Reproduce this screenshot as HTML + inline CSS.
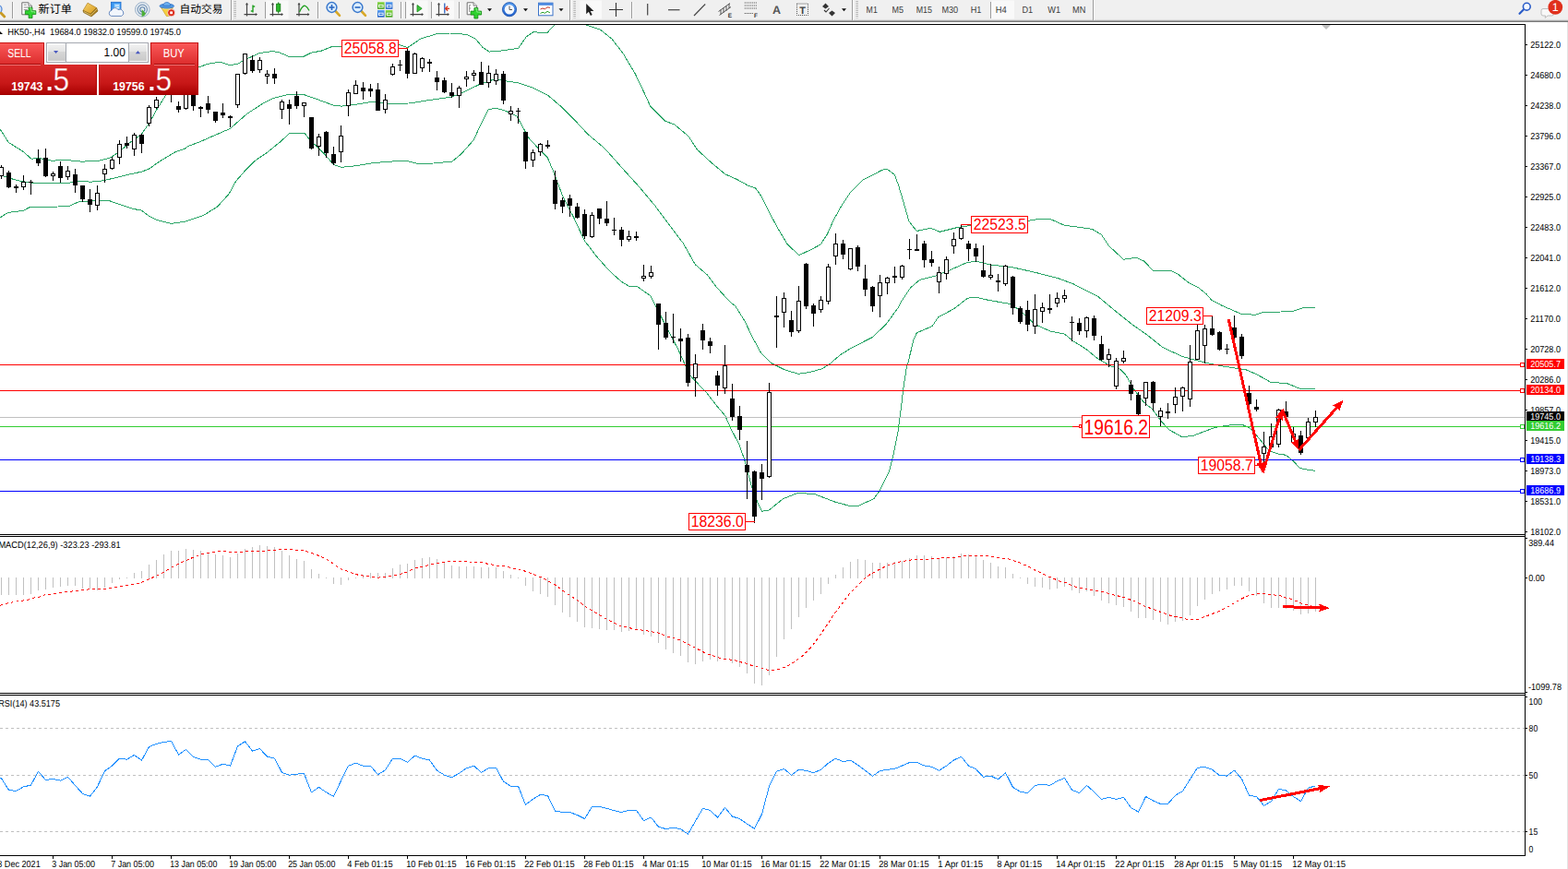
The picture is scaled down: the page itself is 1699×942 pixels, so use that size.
<!DOCTYPE html>
<html><head><meta charset="utf-8"><title>HK50 H4</title>
<style>
html,body{margin:0;padding:0;background:#fff;}
body{width:1699px;height:942px;overflow:hidden;position:relative;font-family:"Liberation Sans",sans-serif;}
svg{position:absolute;left:0;top:0;display:block;}
text{font-family:"Liberation Sans",sans-serif;text-rendering:geometricPrecision;}
</style></head>
<body>
<svg width="1699" height="942" viewBox="0 0 1699 942">
<defs>
<clipPath id="cpMain"><rect x="0" y="27" width="1652" height="552"/></clipPath>
<linearGradient id="gSell" x1="0" y1="0" x2="0" y2="1"><stop offset="0" stop-color="#fb5a5a"/><stop offset="1" stop-color="#dc2c2c"/></linearGradient>
<linearGradient id="gBig" x1="0" y1="0" x2="0" y2="1"><stop offset="0" stop-color="#d92a2a"/><stop offset="0.6" stop-color="#c81818"/><stop offset="1" stop-color="#a80000"/></linearGradient>
<linearGradient id="gBigU" gradientUnits="userSpaceOnUse" x1="0" y1="70" x2="0" y2="103"><stop offset="0" stop-color="#d92a2a"/><stop offset="0.6" stop-color="#c81818"/><stop offset="1" stop-color="#a80000"/></linearGradient>
<linearGradient id="gBtn" x1="0" y1="0" x2="0" y2="1"><stop offset="0" stop-color="#f2f2f2"/><stop offset="0.42" stop-color="#e4e4e4"/><stop offset="0.46" stop-color="#d6d6d6"/><stop offset="1" stop-color="#cacaca"/></linearGradient>
<linearGradient id="gTb" x1="0" y1="0" x2="0" y2="1"><stop offset="0" stop-color="#8c8c8c"/><stop offset="1" stop-color="#dcdcdc"/></linearGradient>
<linearGradient id="gGold" x1="0" y1="0" x2="1" y2="1"><stop offset="0" stop-color="#f6d470"/><stop offset="1" stop-color="#d89818"/></linearGradient>
<linearGradient id="gBlue" x1="0" y1="0" x2="0" y2="1"><stop offset="0" stop-color="#5aa0f0"/><stop offset="1" stop-color="#1c5cc8"/></linearGradient>
<linearGradient id="gGreen" x1="0" y1="0" x2="0" y2="1"><stop offset="0" stop-color="#8ad84a"/><stop offset="1" stop-color="#3ca018"/></linearGradient>
</defs>
<rect x="0" y="0" width="1699" height="942" fill="#fff"/>
<g id="toolbar"><rect x="0" y="0" width="1699" height="21" fill="#f0f0f0"/><rect x="0" y="21" width="1699" height="1" fill="#dedede"/><rect x="0" y="22" width="1699" height="1" fill="#a6a6a6"/><rect x="0" y="23" width="1699" height="1" fill="#7a7a7a"/><circle cx="-2.6" cy="10" r="4.6" fill="#cfe4fb" stroke="#5a8cd8" stroke-width="1.3"/><line x1="1.2" y1="14.2" x2="4.8" y2="18" stroke="#c89a24" stroke-width="2.8" stroke-linecap="round"/><line x1="13.5" x2="13.5" y1="1.5" y2="20" stroke="#9c9c9c" stroke-width="1" shape-rendering="crispEdges"/><line x1="14.5" x2="14.5" y1="1.5" y2="20" stroke="#fafafa" stroke-width="1" shape-rendering="crispEdges"/><path d="M23.8 2.8h7l3.6 3.4v9.6h-10.6z" fill="#fff" stroke="#6e6e6e" stroke-width="1"/><path d="M30.8 2.8v3.4h3.6" fill="#e8e8e8" stroke="#6e6e6e" stroke-width="0.8"/><path d="M25.8 5.2h3M25.8 8h6M25.8 10.6h4" stroke="#8a8a8a" stroke-width="1"/><path d="M31.1 8.2h3.9v3.5h3.8v3.9h-3.8v4h-3.9v-4h-3.8v-3.9h3.8z" fill="#2fd22f" stroke="#0c860c" stroke-width="0.8"/><path d="M32 9.2h2v3.5h3.7v1.6" fill="none" stroke="#9af09a" stroke-width="0.8"/><text x="41.6" y="13.6" textLength="36.4" lengthAdjust="spacingAndGlyphs" style="font-family:'Liberation Sans','Noto Sans CJK SC',sans-serif;font-size:12.1px" fill="#000">新订单</text><path d="M90 11.4L95 3.2L104.6 8.5L98 15.2z" fill="url(#gGold)" stroke="#b08018" stroke-width="0.7"/><path d="M90 11.4L98 15.2L104.6 8.5L106 12L99 18L90.6 13.6z" fill="#a87c1c" stroke="#7a5a10" stroke-width="0.6"/><path d="M91 12.6L98.4 16.4L105 9.8" fill="none" stroke="#f0dc90" stroke-width="0.7"/><rect x="120.4" y="2.3" width="10.6" height="9" fill="#3a96f0" stroke="#1c6ccc" stroke-width="0.8"/><rect x="123.6" y="4" width="6.4" height="6.5" fill="#7cc0fa"/><path d="M124.6 6h4.4M124.6 8.4h4.4" stroke="#fff" stroke-width="1"/><path d="M120.6 17.4a3.1 3.1 0 0 1 0.4 -6.1a3.8 3.8 0 0 1 7 -0.7a3.4 3.4 0 0 1 3.8 6.8z" fill="#f2f6fc" stroke="#6c8cc0" stroke-width="1"/><circle cx="154.3" cy="10.3" r="7.8" fill="#e6ecf2" stroke="#9ab0c8" stroke-width="1"/><circle cx="154.3" cy="10.3" r="5.2" fill="none" stroke="#7a98b8" stroke-width="1.2"/><circle cx="154.3" cy="10.3" r="2.6" fill="none" stroke="#5a80a8" stroke-width="1.1"/><path d="M153.6 10v8.2a7 7 0 0 0 4.5 -3.5z" fill="#4caf38"/><path d="M174.6 8l12.6 0.6l-3.6 8.6l-3.2 0.4z" fill="#f6d040" stroke="#c8a020" stroke-width="0.7"/><path d="M176 9.4l9.5 0.4" stroke="#fbe88a" stroke-width="1.4"/><ellipse cx="180.8" cy="6.6" rx="7.8" ry="2.5" fill="#4f98e4" stroke="#2a6cc0" stroke-width="0.7"/><path d="M176.8 6.2c0.2-5 7.8-5 8 0z" fill="#6cb0f0" stroke="#2a6cc0" stroke-width="0.7"/><circle cx="185.6" cy="13.8" r="4" fill="#dc2a16" stroke="#f4f4f4" stroke-width="0.7"/><rect x="184.2" y="12.4" width="2.8" height="2.8" fill="#fff"/><text x="194.6" y="13.6" textLength="46.9" lengthAdjust="spacingAndGlyphs" style="font-family:'Liberation Sans','Noto Sans CJK SC',sans-serif;font-size:11.8px" fill="#000">自动交易</text><line x1="250" x2="250" y1="0" y2="21.5" stroke="#9c9c9c" stroke-width="1" shape-rendering="crispEdges"/><line x1="251" x2="251" y1="0" y2="21.5" stroke="#fafafa" stroke-width="1" shape-rendering="crispEdges"/><line x1="254.6" x2="254.6" y1="1" y2="19.5" stroke="#b4b4b4" stroke-width="2.6" stroke-dasharray="1 1"/><path d="M267.5 3.5V17.5M264.5 15.6H278" stroke="#444" stroke-width="1.2" fill="none"/><path d="M267.5 3l-1.6 2.2h3.2zM279 15.6l-2.2 -1.6v3.2z" fill="#444"/><path d="M274 5.5V13.5M271.8 12h2.2M274 7h2.2" stroke="#22a022" stroke-width="1.4" fill="none"/><line x1="287.8" x2="287.8" y1="1.5" y2="20" stroke="#9c9c9c" stroke-width="1" shape-rendering="crispEdges"/><line x1="288.8" x2="288.8" y1="1.5" y2="20" stroke="#fafafa" stroke-width="1" shape-rendering="crispEdges"/><rect x="288.5" y="0.5" width="24" height="20" fill="#f9f9f9"/><path d="M295.5 3.5V17.5M292.5 15.6H306" stroke="#444" stroke-width="1.2" fill="none"/><path d="M295.5 3l-1.6 2.2h3.2zM307 15.6l-2.2 -1.6v3.2z" fill="#444"/><path d="M301.7 2.5V14.5" stroke="#147a14" stroke-width="1.1"/><rect x="299.6" y="4.2" width="4.2" height="8" fill="#2cb82c" stroke="#147a14" stroke-width="0.8"/><path d="M324 3.5V17.5M321 15.6H334.5" stroke="#444" stroke-width="1.2" fill="none"/><path d="M324 3l-1.6 2.2h3.2zM335.5 15.6l-2.2 -1.6v3.2z" fill="#444"/><path d="M324.5 13c2-5 4.5-7.5 6.5-6.5s3 3 4 5" stroke="#22a022" stroke-width="1.3" fill="none"/><line x1="344.8" x2="344.8" y1="1.5" y2="20" stroke="#9c9c9c" stroke-width="1" shape-rendering="crispEdges"/><line x1="345.8" x2="345.8" y1="1.5" y2="20" stroke="#fafafa" stroke-width="1" shape-rendering="crispEdges"/><line x1="363.5" y1="12" x2="368" y2="16.8" stroke="#d8a828" stroke-width="2.6" stroke-linecap="round"/><circle cx="359.5" cy="8" r="5.4" fill="#dceeff" stroke="#3a78cc" stroke-width="1.5"/><path d="M356.5 8h6" stroke="#2a66c0" stroke-width="1.6"/><path d="M359.5 5v6" stroke="#2a66c0" stroke-width="1.6"/><line x1="391.5" y1="12" x2="396" y2="16.8" stroke="#d8a828" stroke-width="2.6" stroke-linecap="round"/><circle cx="387.5" cy="8" r="5.4" fill="#dceeff" stroke="#3a78cc" stroke-width="1.5"/><path d="M384.5 8h6" stroke="#2a66c0" stroke-width="1.6"/><rect x="409" y="2.2" width="7.6" height="7.6" fill="url(#gGreen)"/><rect x="410.5" y="5.4" width="4.6" height="2.4" fill="none" stroke="#fff" stroke-width="0.9"/><rect x="417.8" y="2.2" width="7.6" height="7.6" fill="url(#gBlue)"/><rect x="419.3" y="5.4" width="4.6" height="2.4" fill="none" stroke="#fff" stroke-width="0.9"/><rect x="409" y="11" width="7.6" height="7.6" fill="url(#gBlue)"/><rect x="410.5" y="14.2" width="4.6" height="2.4" fill="none" stroke="#fff" stroke-width="0.9"/><rect x="417.8" y="11" width="7.6" height="7.6" fill="url(#gGreen)"/><rect x="419.3" y="14.2" width="4.6" height="2.4" fill="none" stroke="#fff" stroke-width="0.9"/><line x1="434.5" x2="434.5" y1="1.5" y2="20" stroke="#9c9c9c" stroke-width="1" shape-rendering="crispEdges"/><line x1="435.5" x2="435.5" y1="1.5" y2="20" stroke="#fafafa" stroke-width="1" shape-rendering="crispEdges"/><rect x="440" y="0.5" width="23.5" height="20" fill="#f9f9f9"/><line x1="439.5" x2="439.5" y1="1.5" y2="20" stroke="#9c9c9c" stroke-width="1" shape-rendering="crispEdges"/><line x1="440.5" x2="440.5" y1="1.5" y2="20" stroke="#fafafa" stroke-width="1" shape-rendering="crispEdges"/><path d="M447.5 3.5V17.5M444.5 15.6H458" stroke="#444" stroke-width="1.2" fill="none"/><path d="M447.5 3l-1.6 2.2h3.2zM459 15.6l-2.2 -1.6v3.2z" fill="#444"/><path d="M452 5.5v7.5l5.2-3.75z" fill="#3cc43c" stroke="#1a8a1a" stroke-width="0.8"/><rect x="468.5" y="0.5" width="23.5" height="20" fill="#f9f9f9"/><line x1="467.8" x2="467.8" y1="1.5" y2="20" stroke="#9c9c9c" stroke-width="1" shape-rendering="crispEdges"/><line x1="468.8" x2="468.8" y1="1.5" y2="20" stroke="#fafafa" stroke-width="1" shape-rendering="crispEdges"/><path d="M475.5 3.5V17.5M472.5 15.6H486" stroke="#444" stroke-width="1.2" fill="none"/><path d="M475.5 3l-1.6 2.2h3.2zM487 15.6l-2.2 -1.6v3.2z" fill="#444"/><path d="M481.8 3.5v11" stroke="#2a62c0" stroke-width="1.3"/><path d="M487 9.3h-4M485.2 6.8l-2.6 2.5l2.6 2.5" stroke="#d83018" stroke-width="1.2" fill="none"/><line x1="497" x2="497" y1="1.5" y2="20" stroke="#9c9c9c" stroke-width="1" shape-rendering="crispEdges"/><line x1="498" x2="498" y1="1.5" y2="20" stroke="#fafafa" stroke-width="1" shape-rendering="crispEdges"/><path d="M506.2 2.8h6.8l3.6 3.4v9.6h-10.4z" fill="#fff" stroke="#6e6e6e" stroke-width="1"/><path d="M513 2.8v3.4h3.6" fill="#e8e8e8" stroke="#6e6e6e" stroke-width="0.8"/><path d="M508.6 5.5v7.5M508.6 5.5h1.6M508.6 9h1.6" stroke="#8a8a8a" stroke-width="0.9" fill="none"/><path d="M513.9 8.6h3.9v3.5h3.8v3.9h-3.8v4h-3.9v-4h-3.8v-3.9h3.8z" fill="#2fd22f" stroke="#0c860c" stroke-width="0.8"/><path d="M514.8 9.6h2v3.5h3.7v1.6" fill="none" stroke="#9af09a" stroke-width="0.8"/><path d="M528 9.2h5l-2.5 3z" fill="#111"/><circle cx="552" cy="10.2" r="7.6" fill="url(#gBlue)" stroke="#1a4ea8" stroke-width="0.8"/><circle cx="552" cy="10.2" r="5.3" fill="#f4f8ff"/><path d="M552 6.5v4h3" stroke="#555" stroke-width="1" fill="none"/><path d="M567 9.2h5l-2.5 3z" fill="#111"/><rect x="583.5" y="3.2" width="15.5" height="13.6" fill="#fff" stroke="#3a72c8" stroke-width="1"/><rect x="583.5" y="3.2" width="15.5" height="2.6" fill="#4a88e0"/><path d="M585.5 10l2.5-1l2.5 0.8l2.5-2l3 0.5" stroke="#c83020" stroke-width="1" fill="none"/><path d="M585.5 14.5l2.5-1.2l2.5 1l2.5-2l3 1.6" stroke="#28a028" stroke-width="1" fill="none"/><path d="M605.5 9.2h5l-2.5 3z" fill="#111"/><line x1="617.8" x2="617.8" y1="0" y2="21.5" stroke="#9c9c9c" stroke-width="1" shape-rendering="crispEdges"/><line x1="618.8" x2="618.8" y1="0" y2="21.5" stroke="#fafafa" stroke-width="1" shape-rendering="crispEdges"/><line x1="622.6" x2="622.6" y1="1" y2="19.5" stroke="#b4b4b4" stroke-width="2.6" stroke-dasharray="1 1"/><rect x="628.5" y="0.5" width="23.5" height="20" fill="#f9f9f9"/><path d="M635.2 4v11.2l2.7-2.5l2 4.2l1.8-0.8l-2-4.1h3.7z" fill="#222"/><path d="M667.5 3v15M660 10.5h15" stroke="#333" stroke-width="1.1"/><line x1="684.5" x2="684.5" y1="1.5" y2="20" stroke="#9c9c9c" stroke-width="1" shape-rendering="crispEdges"/><line x1="685.5" x2="685.5" y1="1.5" y2="20" stroke="#fafafa" stroke-width="1" shape-rendering="crispEdges"/><path d="M701.7 4v12.5" stroke="#444" stroke-width="1.2"/><path d="M724 10.7h12.5" stroke="#444" stroke-width="1.2"/><path d="M752 17L764.2 4.5" stroke="#444" stroke-width="1.2"/><path d="M778.5 12.5L791 3.5M779.5 16.5L792 7.5M781 10.5v5M784 8.5v5M787 6.5v5M790 4v5" stroke="#444" stroke-width="0.9" fill="none"/><text x="788.8" y="19" style="font-size:6.5px;font-weight:bold" fill="#333">E</text><path d="M806.8 3h14M806.8 6h14M806.8 9h14M806.8 14.5h9" stroke="#444" stroke-width="1" stroke-dasharray="1 1"/><text x="817" y="19" style="font-size:6.5px;font-weight:bold" fill="#333">F</text><text x="841.4" y="15" text-anchor="middle" style="font-size:12.5px;font-weight:bold" fill="#555">A</text><rect x="863.5" y="4" width="12" height="12.5" fill="none" stroke="#555" stroke-width="1" stroke-dasharray="1 1"/><text x="869.5" y="14.6" text-anchor="middle" style="font-size:11px;font-weight:bold" fill="#444">T</text><path d="M891 7l3.5-3.5l3.5 3.5l-3.5 2.6zM898 14l3.5-2.6l3.5 2.6l-3.5 3.5z" fill="#333"/><path d="M893 11l2 2l3.5-4" stroke="#333" stroke-width="1.1" fill="none"/><path d="M912 9.2h5l-2.5 3z" fill="#111"/><line x1="923.5" x2="923.5" y1="0" y2="21.5" stroke="#9c9c9c" stroke-width="1" shape-rendering="crispEdges"/><line x1="924.5" x2="924.5" y1="0" y2="21.5" stroke="#fafafa" stroke-width="1" shape-rendering="crispEdges"/><line x1="928.6" x2="928.6" y1="1" y2="19.5" stroke="#b4b4b4" stroke-width="2.6" stroke-dasharray="1 1"/><rect x="1074.5" y="0.5" width="24.5" height="20" fill="#f9f9f9"/><line x1="1073.8" x2="1073.8" y1="1.5" y2="20" stroke="#9c9c9c" stroke-width="1" shape-rendering="crispEdges"/><line x1="1074.8" x2="1074.8" y1="1.5" y2="20" stroke="#fafafa" stroke-width="1" shape-rendering="crispEdges"/><text x="944.7" y="14" text-anchor="middle" style="font-size:10.17px" textLength="12.2" lengthAdjust="spacingAndGlyphs" fill="#3c3c3c">M1</text><text x="972.8" y="14" text-anchor="middle" style="font-size:10.17px" textLength="12.5" lengthAdjust="spacingAndGlyphs" fill="#3c3c3c">M5</text><text x="1001.3" y="14" text-anchor="middle" style="font-size:10.17px" textLength="17.3" lengthAdjust="spacingAndGlyphs" fill="#3c3c3c">M15</text><text x="1029.3" y="14" text-anchor="middle" style="font-size:10.17px" textLength="17.8" lengthAdjust="spacingAndGlyphs" fill="#3c3c3c">M30</text><text x="1057.5" y="14" text-anchor="middle" style="font-size:10.17px" textLength="11.7" lengthAdjust="spacingAndGlyphs" fill="#3c3c3c">H1</text><text x="1084.7" y="14" text-anchor="middle" style="font-size:10.17px" textLength="12" lengthAdjust="spacingAndGlyphs" fill="#3c3c3c">H4</text><text x="1113.3" y="14" text-anchor="middle" style="font-size:10.17px" textLength="11.7" lengthAdjust="spacingAndGlyphs" fill="#3c3c3c">D1</text><text x="1142.2" y="14" text-anchor="middle" style="font-size:10.17px" textLength="13.8" lengthAdjust="spacingAndGlyphs" fill="#3c3c3c">W1</text><text x="1169.2" y="14" text-anchor="middle" style="font-size:10.17px" textLength="14.3" lengthAdjust="spacingAndGlyphs" fill="#3c3c3c">MN</text><line x1="1184.8" x2="1184.8" y1="0" y2="21.5" stroke="#9c9c9c" stroke-width="1" shape-rendering="crispEdges"/><line x1="1185.8" x2="1185.8" y1="0" y2="21.5" stroke="#fafafa" stroke-width="1" shape-rendering="crispEdges"/><line x1="1646.5" y1="14.8" x2="1651.5" y2="9.8" stroke="#2a5cc8" stroke-width="2.2" stroke-linecap="round"/><circle cx="1654.3" cy="7.2" r="3.9" fill="#f4f8ff" stroke="#2a5cc8" stroke-width="1.6"/><path d="M1672 9.5h9.5a2 2 0 0 1 2 2v3.5a2 2 0 0 1 -2 2h-4.5l-2.8 2.4l0.3-2.4h-2.5a2 2 0 0 1 -2 -2v-3.5a2 2 0 0 1 2 -2z" fill="#f8f8f8" stroke="#b8b8b8" stroke-width="0.9"/><circle cx="1685.3" cy="7.8" r="7.9" fill="#e0301c"/><text x="1685.2" y="12.3" text-anchor="middle" style="font-size:12.5px" fill="#fff">1</text></g>
<g id="frame" shape-rendering="crispEdges"><rect x="0" y="26" width="1653" height="1" fill="#000"/><rect x="1652" y="26" width="1" height="902" fill="#000"/><rect x="0" y="579" width="1653" height="1" fill="#000"/><rect x="0" y="581" width="1653" height="1" fill="#000"/><rect x="0" y="751" width="1653" height="1" fill="#000"/><rect x="0" y="753" width="1653" height="1" fill="#000"/><rect x="0" y="927" width="1653" height="1" fill="#000"/><rect x="1698" y="24" width="1" height="918" fill="#e3e3e3"/><path d="M1432 27h10l-5 5z" fill="#c0c0c0" shape-rendering="auto"/></g>
<g id="main"><g clip-path="url(#cpMain)" shape-rendering="crispEdges">
<polyline points="0,139.9 9.3,154.4 25.5,164.6 34,172.2 41.6,171.3 56.1,174.2 71.3,173.4 88.3,175.1 105.3,174.7 118.9,171.3 129.1,164.6 141,154.4 152.9,145.9 161.4,134 169.9,118.7 178.4,105.1 181,100 186,92 195,82 205,76 215.5,72.9 217,72.3 225.5,69.2 238.2,67.2 249.3,70.6 257.8,69.2 263.7,65.5 281.5,57.5 295.1,55.6 301.9,56.6 313.8,61.6 329.1,61.2 337.6,57 347.8,55.3 359.7,50.5 369.9,50.2 380,50.2 400,50 425,49.6 432,48.3 441.6,51.5 448,47.5 455.1,42.3 472.7,36.8 487.7,36 505.2,37.3 515.3,42.3 522.8,51.1 530.3,56.1 545.3,54.8 561.6,52.3 570.4,39.8 577.9,34.8 593,35.5 600.5,27.3 604.2,23.5 618,19.7 631.8,23.5 635.6,27.3 650.6,32.3 663.1,42.3 675.6,58.6 688.2,79.9 700.7,106.2 704.5,115 720.8,131.2 730.8,135 745.8,147.5 755.8,162.6 770.9,176.4 785.9,188.9 798.4,194.4 811,201.4 818.5,203.9 825,212.7 833.3,230 843.3,248.3 853.3,265 865.8,276.7 878.3,270.8 889.2,265 896.7,253.3 903.3,238.3 911.7,223.3 921.7,208.3 935,195 945,190 955,184.7 960.8,183 969.2,189.2 973.3,200 978.3,216.7 985,240 993.3,250.5 1008.3,247.2 1018.3,251.3 1036.7,246.7 1051.7,244.5 1063.3,242.5 1096.7,240.8 1112.5,239.7 1125,237.5 1138.3,237.5 1140,238.3 1153.3,244.2 1183.3,248.3 1193.3,254.2 1201.7,266.7 1217.5,281.3 1231.7,279.2 1240,283.3 1249.2,293.3 1268.3,293.3 1276.7,297.5 1288.3,306.7 1298.3,311.7 1306.7,318.3 1313.3,325.8 1325,331.7 1344.2,340 1360,341.3 1369.2,338.3 1388.3,338 1401.7,337 1413.3,333.3 1423,333 1425,333" fill="none" stroke="#2aa567" stroke-width="1" stroke-linejoin="round"/>
<polyline points="0,189.7 10.2,193.1 22.1,196.3 34,198.2 56.1,198.5 76.4,198 84.9,196.3 98.5,197.2 110.4,196 122.3,193.4 139.3,189.2 152.9,186.3 161.4,183.2 173.3,174.7 190.3,164.6 200,161.5 203.8,158.6 217,153.5 249.3,139.4 267.9,123.2 284.9,112.2 296.8,106.2 310.4,102.9 329.1,102.5 344.4,107.9 361.4,114.2 369.9,115.1 386.9,113 400,110.8 403.8,110.2 421.7,112.2 443.3,112 466.7,108.3 490,105 500,100.8 520,91.3 533.3,86.7 541.7,86.2 550,88.3 560,89.5 575,94.2 593.3,103 608.3,115.8 623.3,130.8 636.7,145.3 653.3,159.2 660,166.2 663.3,170 676.7,185 693.3,203.3 710,223.3 726.7,245.8 740,263.3 753.3,286.7 766.7,298.3 776.7,311.7 790.8,327 796.7,331.7 806.7,347.5 815,365 825,383.3 835,393.3 850,400.8 865,405.3 878.3,403.3 890,400 898.3,395.3 910,385 923.3,376.7 945,365.8 960,351.7 973,333.7 976.7,326.7 986.7,311.7 996.7,303.3 1013.3,299.2 1030,292.5 1046.7,285 1056.7,283 1073.3,287 1096.7,289.7 1121.7,295.3 1146.7,301.7 1163,307.8 1190,321.7 1210,338.3 1226.7,351.7 1243.3,363.3 1260,376.7 1281.7,386.7 1306.7,393.3 1323.3,396.7 1350,400.8 1361.7,405.8 1376.7,414.2 1395,415.8 1408.3,421.2 1425,421.2" fill="none" stroke="#2aa567" stroke-width="1" stroke-linejoin="round"/>
<polyline points="0,235.9 8.5,230.5 25.5,228.3 32.3,224.5 51,224.5 74.7,223.5 84.9,218.9 95.1,218.4 108.7,217.2 117.2,217.2 129.1,221.5 144.4,226.6 152.9,227.7 161.4,234.2 169.9,238.4 185.2,242.4 195.4,241 200.5,240.3 220.5,233.5 235.6,224 248.1,210.2 255.6,196.4 264.6,186.1 276.4,174.2 290,164.9 303.6,153.8 313.8,144.5 330,144.1 335.9,152.1 344.4,159.8 353.7,169.4 361.4,178.4 369.9,181.3 386.9,179.6 403.8,176.7 420,175.3 440,174.2 453.3,177.5 470,177 490,175 500,166.7 513.3,151.7 521.7,133.3 529.2,118.7 536.7,117.2 546.7,119.7 560,125.8 566.7,138.3 573.3,150 583.3,160.8 593.3,170.8 600,186.7 601.7,191.7 610,213.3 621.7,235.8 633.3,260.8 646.7,278.3 660,293.3 673.3,305.3 681.7,310.3 690,310.3 705,320.8 711.7,334.2 723.3,356.7 735,379.2 742.5,395.8 748.3,407.5 761.7,421.7 765,425 776.7,440 785.8,450.8 791.7,464.2 800.8,481.7 806.7,498.3 814.2,526.7 821.7,546.7 825.8,554.2 833.3,553 848.3,540.8 865,534.2 883.3,535.8 905,544.2 921.7,548.7 930,548.3 946.7,540.8 953.3,531.7 963.3,511.7 968.3,491.7 973,468.3 976,445 979,420 982,400 984.2,392 990,368.3 993.3,360.8 1010,353.7 1016.7,343.7 1033.3,335 1048.3,323.3 1056.7,322 1071.7,325.5 1093.3,329.2 1103.3,335 1113.3,344.2 1121.7,351.7 1138.3,359.2 1153.3,362 1163.3,370 1176.7,378.3 1190,389.2 1203.3,396.7 1213.3,400 1220,406.7 1228.3,421.7 1238.3,435 1248.3,443.3 1258.3,456.7 1266.7,465.8 1280,473.3 1291.7,472.8 1303.3,468.3 1316.7,463.3 1333.3,460.8 1345,460 1353.3,463.3 1360,470 1366.7,478.3 1375,488.3 1383.3,491.7 1393.3,493.3 1401.7,500 1408.3,507.5 1416.7,509.2 1425,510.3" fill="none" stroke="#2aa567" stroke-width="1" stroke-linejoin="round"/>
<rect x="0" y="395" width="1652" height="1" fill="#ff0000"/>
<rect x="1647" y="393" width="5" height="5" fill="#ff0000"/><rect x="1648" y="394" width="3" height="3" fill="#fff"/>
<rect x="0" y="423" width="1652" height="1" fill="#ff0000"/>
<rect x="1647" y="421" width="5" height="5" fill="#ff0000"/><rect x="1648" y="422" width="3" height="3" fill="#fff"/>
<rect x="0" y="452" width="1652" height="1" fill="#c0c0c0"/>
<rect x="0" y="462" width="1652" height="1" fill="#32cd32"/>
<rect x="1647" y="460" width="5" height="5" fill="#32cd32"/><rect x="1648" y="461" width="3" height="3" fill="#fff"/>
<rect x="0" y="498" width="1652" height="1" fill="#0000ff"/>
<rect x="1647" y="496" width="5" height="5" fill="#0000ff"/><rect x="1648" y="497" width="3" height="3" fill="#fff"/>
<rect x="0" y="532" width="1652" height="1" fill="#0000ff"/>
<rect x="1647" y="530" width="5" height="5" fill="#0000ff"/><rect x="1648" y="531" width="3" height="3" fill="#fff"/>
<g fill="#000"><rect x="1" y="179" width="1" height="15"/><rect x="-1" y="181" width="5" height="10"/><rect x="9" y="185" width="1" height="19"/><rect x="7" y="187" width="5" height="16"/><rect x="17" y="200" width="1" height="9"/><rect x="15" y="202" width="5" height="2"/><rect x="25" y="190" width="1" height="16"/><rect x="23" y="197" width="5" height="6"/><rect x="33" y="195" width="1" height="16"/><rect x="31" y="197" width="5" height="1"/><rect x="41" y="162" width="1" height="18"/><rect x="39" y="172" width="5" height="5"/><rect x="49" y="161" width="1" height="31"/><rect x="47" y="171" width="5" height="20"/><rect x="57" y="186" width="1" height="10"/><rect x="55" y="188" width="5" height="3"/><rect x="65" y="175" width="1" height="23"/><rect x="63" y="180" width="5" height="13"/><rect x="73" y="180" width="1" height="15"/><rect x="71" y="185" width="5" height="7"/><rect x="81" y="183" width="1" height="26"/><rect x="79" y="189" width="5" height="12"/><rect x="89" y="201" width="1" height="18"/><rect x="87" y="201" width="5" height="15"/><rect x="97" y="205" width="1" height="25"/><rect x="95" y="216" width="5" height="6"/><rect x="105" y="201" width="1" height="27"/><rect x="103" y="209" width="5" height="14"/><rect x="113" y="178" width="1" height="20"/><rect x="111" y="183" width="5" height="6"/><rect x="121" y="170" width="1" height="14"/><rect x="119" y="173" width="5" height="10"/><rect x="129" y="152" width="1" height="26"/><rect x="127" y="156" width="5" height="15"/><rect x="137" y="148" width="1" height="13"/><rect x="135" y="155" width="5" height="3"/><rect x="145" y="144" width="1" height="25"/><rect x="143" y="146" width="5" height="16"/><rect x="153" y="145" width="1" height="21"/><rect x="151" y="146" width="5" height="10"/><rect x="161" y="114" width="1" height="23"/><rect x="159" y="116" width="5" height="18"/><rect x="169" y="105" width="1" height="13"/><rect x="167" y="108" width="5" height="9"/><rect x="185" y="76" width="1" height="35"/><rect x="183" y="79" width="5" height="20"/><rect x="193" y="110" width="1" height="12"/><rect x="191" y="115" width="5" height="4"/><rect x="201" y="99" width="1" height="20"/><rect x="199" y="101" width="5" height="17"/><rect x="209" y="99" width="1" height="21"/><rect x="207" y="101" width="5" height="14"/><rect x="217" y="115" width="1" height="12"/><rect x="215" y="116" width="5" height="2"/><rect x="225" y="104" width="1" height="19"/><rect x="223" y="112" width="5" height="7"/><rect x="233" y="121" width="1" height="12"/><rect x="231" y="121" width="5" height="10"/><rect x="241" y="112" width="1" height="16"/><rect x="239" y="122" width="5" height="3"/><rect x="249" y="125" width="1" height="13"/><rect x="247" y="126" width="5" height="2"/><rect x="257" y="80" width="1" height="37"/><rect x="255" y="80" width="5" height="34"/><rect x="265" y="58" width="1" height="23"/><rect x="263" y="58" width="5" height="22"/><rect x="273" y="60" width="1" height="19"/><rect x="271" y="65" width="5" height="12"/><rect x="281" y="62" width="1" height="17"/><rect x="279" y="65" width="5" height="11"/><rect x="289" y="76" width="1" height="15"/><rect x="287" y="80" width="5" height="3"/><rect x="297" y="74" width="1" height="17"/><rect x="295" y="80" width="5" height="5"/><rect x="305" y="108" width="1" height="21"/><rect x="303" y="110" width="5" height="9"/><rect x="313" y="108" width="1" height="27"/><rect x="311" y="113" width="5" height="5"/><rect x="321" y="99" width="1" height="19"/><rect x="319" y="104" width="5" height="11"/><rect x="329" y="111" width="1" height="16"/><rect x="327" y="111" width="5" height="4"/><rect x="337" y="127" width="1" height="35"/><rect x="335" y="127" width="5" height="34"/><rect x="345" y="145" width="1" height="24"/><rect x="343" y="148" width="5" height="11"/><rect x="353" y="142" width="1" height="29"/><rect x="351" y="143" width="5" height="23"/><rect x="361" y="159" width="1" height="20"/><rect x="359" y="167" width="5" height="10"/><rect x="369" y="136" width="1" height="40"/><rect x="367" y="147" width="5" height="18"/><rect x="377" y="97" width="1" height="29"/><rect x="375" y="100" width="5" height="15"/><rect x="385" y="87" width="1" height="15"/><rect x="383" y="92" width="5" height="10"/><rect x="393" y="89" width="1" height="19"/><rect x="391" y="95" width="5" height="4"/><rect x="401" y="91" width="1" height="14"/><rect x="399" y="96" width="5" height="3"/><rect x="409" y="90" width="1" height="30"/><rect x="407" y="97" width="5" height="23"/><rect x="417" y="102" width="1" height="21"/><rect x="415" y="108" width="5" height="11"/><rect x="425" y="69" width="1" height="13"/><rect x="423" y="72" width="5" height="9"/><rect x="433" y="65" width="1" height="12"/><rect x="431" y="70" width="5" height="1"/><rect x="441" y="52" width="1" height="33"/><rect x="439" y="55" width="5" height="25"/><rect x="449" y="57" width="1" height="23"/><rect x="447" y="58" width="5" height="22"/><rect x="457" y="62" width="1" height="16"/><rect x="455" y="63" width="5" height="11"/><rect x="465" y="64" width="1" height="14"/><rect x="463" y="67" width="5" height="2"/><rect x="473" y="77" width="1" height="21"/><rect x="471" y="84" width="5" height="5"/><rect x="481" y="84" width="1" height="17"/><rect x="479" y="87" width="5" height="13"/><rect x="489" y="90" width="1" height="16"/><rect x="487" y="100" width="5" height="4"/><rect x="497" y="93" width="1" height="24"/><rect x="495" y="95" width="5" height="9"/><rect x="505" y="77" width="1" height="17"/><rect x="503" y="83" width="5" height="3"/><rect x="513" y="76" width="1" height="12"/><rect x="511" y="79" width="5" height="3"/><rect x="521" y="67" width="1" height="25"/><rect x="519" y="78" width="5" height="14"/><rect x="529" y="71" width="1" height="24"/><rect x="527" y="79" width="5" height="11"/><rect x="537" y="75" width="1" height="17"/><rect x="535" y="80" width="5" height="8"/><rect x="545" y="77" width="1" height="36"/><rect x="543" y="80" width="5" height="29"/><rect x="553" y="115" width="1" height="16"/><rect x="551" y="120" width="5" height="4"/><rect x="561" y="117" width="1" height="17"/><rect x="559" y="120" width="5" height="1"/><rect x="569" y="143" width="1" height="40"/><rect x="567" y="143" width="5" height="32"/><rect x="577" y="162" width="1" height="19"/><rect x="575" y="165" width="5" height="9"/><rect x="585" y="155" width="1" height="14"/><rect x="583" y="156" width="5" height="9"/><rect x="593" y="152" width="1" height="9"/><rect x="591" y="157" width="5" height="2"/><rect x="601" y="185" width="1" height="42"/><rect x="599" y="195" width="5" height="26"/><rect x="609" y="214" width="1" height="17"/><rect x="607" y="217" width="5" height="7"/><rect x="617" y="211" width="1" height="24"/><rect x="615" y="215" width="5" height="8"/><rect x="625" y="220" width="1" height="17"/><rect x="623" y="224" width="5" height="12"/><rect x="633" y="227" width="1" height="32"/><rect x="631" y="232" width="5" height="24"/><rect x="641" y="230" width="1" height="28"/><rect x="639" y="233" width="5" height="24"/><rect x="649" y="226" width="1" height="17"/><rect x="647" y="226" width="5" height="11"/><rect x="657" y="218" width="1" height="27"/><rect x="655" y="237" width="5" height="5"/><rect x="665" y="236" width="1" height="19"/><rect x="663" y="249" width="5" height="1"/><rect x="673" y="246" width="1" height="21"/><rect x="671" y="249" width="5" height="11"/><rect x="681" y="250" width="1" height="12"/><rect x="679" y="256" width="5" height="4"/><rect x="689" y="251" width="1" height="10"/><rect x="687" y="256" width="5" height="2"/><rect x="697" y="287" width="1" height="18"/><rect x="695" y="299" width="5" height="3"/><rect x="705" y="288" width="1" height="14"/><rect x="703" y="295" width="5" height="5"/><rect x="713" y="329" width="1" height="50"/><rect x="711" y="329" width="5" height="23"/><rect x="721" y="338" width="1" height="30"/><rect x="719" y="350" width="5" height="16"/><rect x="729" y="340" width="1" height="32"/><rect x="727" y="365" width="5" height="1"/><rect x="737" y="356" width="1" height="36"/><rect x="735" y="367" width="5" height="3"/><rect x="745" y="362" width="1" height="57"/><rect x="743" y="366" width="5" height="49"/><rect x="753" y="384" width="1" height="46"/><rect x="751" y="394" width="5" height="16"/><rect x="761" y="351" width="1" height="28"/><rect x="759" y="358" width="5" height="11"/><rect x="769" y="366" width="1" height="17"/><rect x="767" y="370" width="5" height="5"/><rect x="777" y="402" width="1" height="27"/><rect x="775" y="407" width="5" height="11"/><rect x="785" y="374" width="1" height="53"/><rect x="783" y="396" width="5" height="25"/><rect x="793" y="416" width="1" height="40"/><rect x="791" y="432" width="5" height="20"/><rect x="801" y="440" width="1" height="37"/><rect x="799" y="451" width="5" height="15"/><rect x="809" y="478" width="1" height="63"/><rect x="807" y="504" width="5" height="8"/><rect x="817" y="510" width="1" height="57"/><rect x="815" y="511" width="5" height="49"/><rect x="825" y="503" width="1" height="39"/><rect x="823" y="512" width="5" height="7"/><rect x="833" y="415" width="1" height="103"/><rect x="831" y="425" width="5" height="92"/><rect x="841" y="321" width="1" height="56"/><rect x="839" y="342" width="5" height="2"/><rect x="849" y="317" width="1" height="38"/><rect x="847" y="323" width="5" height="16"/><rect x="857" y="337" width="1" height="28"/><rect x="855" y="347" width="5" height="13"/><rect x="865" y="310" width="1" height="51"/><rect x="863" y="326" width="5" height="33"/><rect x="873" y="285" width="1" height="50"/><rect x="871" y="286" width="5" height="46"/><rect x="881" y="329" width="1" height="25"/><rect x="879" y="331" width="5" height="9"/><rect x="889" y="321" width="1" height="18"/><rect x="887" y="325" width="5" height="11"/><rect x="897" y="286" width="1" height="44"/><rect x="895" y="289" width="5" height="38"/><rect x="905" y="253" width="1" height="34"/><rect x="903" y="264" width="5" height="14"/><rect x="913" y="260" width="1" height="21"/><rect x="911" y="264" width="5" height="12"/><rect x="921" y="269" width="1" height="24"/><rect x="919" y="269" width="5" height="23"/><rect x="929" y="266" width="1" height="28"/><rect x="927" y="268" width="5" height="21"/><rect x="937" y="287" width="1" height="34"/><rect x="935" y="302" width="5" height="12"/><rect x="945" y="310" width="1" height="28"/><rect x="943" y="311" width="5" height="21"/><rect x="953" y="298" width="1" height="46"/><rect x="951" y="306" width="5" height="15"/><rect x="961" y="300" width="1" height="19"/><rect x="959" y="301" width="5" height="6"/><rect x="969" y="289" width="1" height="18"/><rect x="967" y="299" width="5" height="2"/><rect x="977" y="287" width="1" height="16"/><rect x="975" y="288" width="5" height="13"/><rect x="985" y="259" width="1" height="22"/><rect x="983" y="270" width="5" height="1"/><rect x="993" y="254" width="1" height="17"/><rect x="991" y="270" width="5" height="2"/><rect x="1001" y="261" width="1" height="29"/><rect x="999" y="264" width="5" height="18"/><rect x="1009" y="272" width="1" height="17"/><rect x="1007" y="281" width="5" height="4"/><rect x="1017" y="289" width="1" height="29"/><rect x="1015" y="295" width="5" height="11"/><rect x="1025" y="278" width="1" height="25"/><rect x="1023" y="281" width="5" height="16"/><rect x="1033" y="252" width="1" height="23"/><rect x="1031" y="259" width="5" height="8"/><rect x="1041" y="243" width="1" height="17"/><rect x="1039" y="247" width="5" height="12"/><rect x="1049" y="261" width="1" height="22"/><rect x="1047" y="264" width="5" height="6"/><rect x="1057" y="264" width="1" height="20"/><rect x="1055" y="269" width="5" height="9"/><rect x="1065" y="266" width="1" height="35"/><rect x="1063" y="293" width="5" height="7"/><rect x="1073" y="286" width="1" height="17"/><rect x="1071" y="298" width="5" height="3"/><rect x="1081" y="297" width="1" height="19"/><rect x="1079" y="304" width="5" height="2"/><rect x="1089" y="287" width="1" height="23"/><rect x="1087" y="288" width="5" height="20"/><rect x="1097" y="299" width="1" height="42"/><rect x="1095" y="300" width="5" height="34"/><rect x="1105" y="332" width="1" height="19"/><rect x="1103" y="334" width="5" height="15"/><rect x="1113" y="326" width="1" height="33"/><rect x="1111" y="336" width="5" height="16"/><rect x="1121" y="319" width="1" height="43"/><rect x="1119" y="335" width="5" height="19"/><rect x="1129" y="328" width="1" height="22"/><rect x="1127" y="333" width="5" height="5"/><rect x="1137" y="319" width="1" height="21"/><rect x="1135" y="334" width="5" height="2"/><rect x="1145" y="317" width="1" height="16"/><rect x="1143" y="323" width="5" height="6"/><rect x="1153" y="314" width="1" height="14"/><rect x="1151" y="320" width="5" height="4"/><rect x="1161" y="343" width="1" height="27"/><rect x="1159" y="349" width="5" height="1"/><rect x="1169" y="345" width="1" height="18"/><rect x="1167" y="350" width="5" height="9"/><rect x="1177" y="343" width="1" height="23"/><rect x="1175" y="344" width="5" height="15"/><rect x="1185" y="342" width="1" height="27"/><rect x="1183" y="345" width="5" height="19"/><rect x="1193" y="364" width="1" height="27"/><rect x="1191" y="373" width="5" height="17"/><rect x="1201" y="378" width="1" height="20"/><rect x="1199" y="384" width="5" height="6"/><rect x="1209" y="388" width="1" height="34"/><rect x="1207" y="391" width="5" height="28"/><rect x="1217" y="380" width="1" height="14"/><rect x="1215" y="388" width="5" height="4"/><rect x="1225" y="412" width="1" height="22"/><rect x="1223" y="417" width="5" height="10"/><rect x="1233" y="425" width="1" height="25"/><rect x="1231" y="428" width="5" height="21"/><rect x="1241" y="414" width="1" height="26"/><rect x="1239" y="414" width="5" height="18"/><rect x="1249" y="413" width="1" height="32"/><rect x="1247" y="414" width="5" height="23"/><rect x="1257" y="442" width="1" height="20"/><rect x="1255" y="445" width="5" height="7"/><rect x="1265" y="437" width="1" height="17"/><rect x="1263" y="446" width="5" height="2"/><rect x="1273" y="420" width="1" height="28"/><rect x="1271" y="430" width="5" height="9"/><rect x="1281" y="419" width="1" height="27"/><rect x="1279" y="420" width="5" height="10"/><rect x="1289" y="374" width="1" height="67"/><rect x="1287" y="392" width="5" height="41"/><rect x="1297" y="352" width="1" height="38"/><rect x="1295" y="358" width="5" height="32"/><rect x="1305" y="352" width="1" height="42"/><rect x="1303" y="356" width="5" height="19"/><rect x="1313" y="342" width="1" height="22"/><rect x="1311" y="356" width="5" height="7"/><rect x="1321" y="359" width="1" height="21"/><rect x="1319" y="360" width="5" height="19"/><rect x="1329" y="373" width="1" height="11"/><rect x="1327" y="378" width="5" height="1"/><rect x="1337" y="342" width="1" height="25"/><rect x="1335" y="355" width="5" height="11"/><rect x="1345" y="362" width="1" height="27"/><rect x="1343" y="365" width="5" height="21"/><rect x="1353" y="418" width="1" height="21"/><rect x="1351" y="426" width="5" height="12"/><rect x="1361" y="433" width="1" height="13"/><rect x="1359" y="441" width="5" height="3"/><rect x="1369" y="468" width="1" height="39"/><rect x="1367" y="484" width="5" height="8"/><rect x="1377" y="459" width="1" height="26"/><rect x="1375" y="473" width="5" height="12"/><rect x="1385" y="443" width="1" height="42"/><rect x="1383" y="444" width="5" height="38"/><rect x="1393" y="435" width="1" height="17"/><rect x="1391" y="446" width="5" height="6"/><rect x="1401" y="463" width="1" height="17"/><rect x="1399" y="470" width="5" height="10"/><rect x="1409" y="467" width="1" height="26"/><rect x="1407" y="472" width="5" height="19"/><rect x="1417" y="453" width="1" height="21"/><rect x="1415" y="457" width="5" height="18"/><rect x="1425" y="445" width="1" height="18"/><rect x="1423" y="452" width="5" height="6"/></g>
<g fill="#fff"><rect x="0" y="182" width="3" height="8"/><rect x="24" y="198" width="3" height="4"/><rect x="56" y="189" width="3" height="1"/><rect x="72" y="186" width="3" height="5"/><rect x="104" y="210" width="3" height="12"/><rect x="112" y="184" width="3" height="4"/><rect x="120" y="174" width="3" height="8"/><rect x="128" y="157" width="3" height="13"/><rect x="144" y="147" width="3" height="14"/><rect x="160" y="117" width="3" height="16"/><rect x="168" y="109" width="3" height="7"/><rect x="200" y="102" width="3" height="15"/><rect x="256" y="81" width="3" height="32"/><rect x="264" y="59" width="3" height="20"/><rect x="280" y="66" width="3" height="9"/><rect x="288" y="81" width="3" height="1"/><rect x="304" y="111" width="3" height="7"/><rect x="328" y="112" width="3" height="2"/><rect x="344" y="149" width="3" height="9"/><rect x="368" y="148" width="3" height="16"/><rect x="376" y="101" width="3" height="13"/><rect x="384" y="93" width="3" height="8"/><rect x="416" y="109" width="3" height="9"/><rect x="424" y="73" width="3" height="7"/><rect x="448" y="59" width="3" height="20"/><rect x="456" y="64" width="3" height="9"/><rect x="496" y="96" width="3" height="7"/><rect x="504" y="84" width="3" height="1"/><rect x="512" y="80" width="3" height="1"/><rect x="528" y="80" width="3" height="9"/><rect x="536" y="81" width="3" height="6"/><rect x="552" y="121" width="3" height="2"/><rect x="576" y="166" width="3" height="7"/><rect x="584" y="157" width="3" height="7"/><rect x="640" y="234" width="3" height="22"/><rect x="680" y="257" width="3" height="2"/><rect x="696" y="300" width="3" height="1"/><rect x="704" y="296" width="3" height="3"/><rect x="752" y="395" width="3" height="14"/><rect x="784" y="397" width="3" height="23"/><rect x="832" y="426" width="3" height="90"/><rect x="848" y="324" width="3" height="14"/><rect x="864" y="327" width="3" height="31"/><rect x="888" y="326" width="3" height="9"/><rect x="896" y="290" width="3" height="36"/><rect x="904" y="265" width="3" height="12"/><rect x="920" y="270" width="3" height="21"/><rect x="952" y="307" width="3" height="13"/><rect x="960" y="302" width="3" height="4"/><rect x="976" y="289" width="3" height="11"/><rect x="1016" y="296" width="3" height="9"/><rect x="1024" y="282" width="3" height="14"/><rect x="1032" y="260" width="3" height="6"/><rect x="1040" y="248" width="3" height="10"/><rect x="1072" y="299" width="3" height="1"/><rect x="1088" y="289" width="3" height="18"/><rect x="1120" y="336" width="3" height="17"/><rect x="1128" y="334" width="3" height="3"/><rect x="1144" y="324" width="3" height="4"/><rect x="1152" y="321" width="3" height="2"/><rect x="1176" y="345" width="3" height="13"/><rect x="1200" y="385" width="3" height="4"/><rect x="1208" y="392" width="3" height="26"/><rect x="1216" y="389" width="3" height="2"/><rect x="1240" y="415" width="3" height="16"/><rect x="1256" y="446" width="3" height="5"/><rect x="1272" y="431" width="3" height="7"/><rect x="1280" y="421" width="3" height="8"/><rect x="1288" y="393" width="3" height="39"/><rect x="1296" y="359" width="3" height="30"/><rect x="1304" y="357" width="3" height="17"/><rect x="1368" y="485" width="3" height="6"/><rect x="1376" y="474" width="3" height="10"/><rect x="1384" y="445" width="3" height="36"/><rect x="1400" y="471" width="3" height="8"/><rect x="1416" y="458" width="3" height="16"/><rect x="1424" y="453" width="3" height="4"/></g>
<rect x="432" y="52" width="10" height="1" fill="#ff0000"/><rect x="370" y="43" width="62" height="19" fill="#ff0000"/><rect x="371" y="44" width="60" height="17" fill="#fff"/><text x="401.3" y="58" text-anchor="middle" textLength="57" lengthAdjust="spacingAndGlyphs" style="font-family:'Liberation Sans',sans-serif;font-size:17.44px" fill="#ff0000">25058.8</text>
<rect x="808" y="565" width="10" height="1" fill="#ff0000"/><rect x="746" y="556" width="62" height="19" fill="#ff0000"/><rect x="747" y="557" width="60" height="17" fill="#fff"/><text x="777.3" y="571" text-anchor="middle" textLength="57" lengthAdjust="spacingAndGlyphs" style="font-family:'Liberation Sans',sans-serif;font-size:17.44px" fill="#ff0000">18236.0</text>
<rect x="1041" y="243" width="11" height="1" fill="#ff0000"/><rect x="1052" y="234" width="62" height="19" fill="#ff0000"/><rect x="1053" y="235" width="60" height="17" fill="#fff"/><text x="1083.3" y="249" text-anchor="middle" textLength="57" lengthAdjust="spacingAndGlyphs" style="font-family:'Liberation Sans',sans-serif;font-size:17.44px" fill="#ff0000">22523.5</text>
<rect x="1304" y="342" width="10" height="1" fill="#ff0000"/><rect x="1242" y="333" width="62" height="19" fill="#ff0000"/><rect x="1243" y="334" width="60" height="17" fill="#fff"/><text x="1273.3" y="348" text-anchor="middle" textLength="57" lengthAdjust="spacingAndGlyphs" style="font-family:'Liberation Sans',sans-serif;font-size:17.44px" fill="#ff0000">21209.3</text>
<rect x="1360" y="504" width="9" height="1" fill="#ff0000"/><rect x="1298" y="495" width="62" height="19" fill="#ff0000"/><rect x="1299" y="496" width="60" height="17" fill="#fff"/><text x="1329.3" y="510" text-anchor="middle" textLength="57" lengthAdjust="spacingAndGlyphs" style="font-family:'Liberation Sans',sans-serif;font-size:17.44px" fill="#ff0000">19058.7</text>
<rect x="1162" y="462" width="8" height="1" fill="#ff0000"/><rect x="1169" y="460" width="3" height="4" fill="#ff0000"/><rect x="1170" y="461" width="1" height="2" fill="#fff"/>
<rect x="1172" y="450" width="74" height="25" fill="#ff0000"/><rect x="1173" y="451" width="72" height="23" fill="#fff"/><text x="1209.3" y="471" text-anchor="middle" textLength="69.5" lengthAdjust="spacingAndGlyphs" style="font-family:'Liberation Sans',sans-serif;font-size:23.26px" fill="#ff0000">19616.2</text>
</g>
<g clip-path="url(#cpMain)">
<line x1="1331.2" y1="345.8" x2="1367.2" y2="507.4" stroke="#ff0000" stroke-width="3" stroke-linecap="butt" shape-rendering="crispEdges"/><polygon shape-rendering="crispEdges" points="1368.3,512.3 1361.3,502.1 1366.1,502.4 1370.3,500.1" fill="#ff0000"/>
<line x1="1368.3" y1="512.3" x2="1387.7" y2="448.5" stroke="#ff0000" stroke-width="3" stroke-linecap="butt" shape-rendering="crispEdges"/><polygon shape-rendering="crispEdges" points="1389.2,443.7 1390.2,456 1386.3,453.4 1381.4,453.4" fill="#ff0000"/>
<line x1="1389.2" y1="443.7" x2="1405.6" y2="483.2" stroke="#ff0000" stroke-width="3" stroke-linecap="butt" shape-rendering="crispEdges"/><polygon shape-rendering="crispEdges" points="1407.5,487.8 1398.8,478.9 1403.6,478.5 1407.3,475.4" fill="#ff0000"/>
<line x1="1407.5" y1="487.8" x2="1452.2" y2="437.7" stroke="#ff0000" stroke-width="3" stroke-linecap="butt" shape-rendering="crispEdges"/><polygon shape-rendering="crispEdges" points="1455.5,434 1451.3,445.6 1448.8,441.6 1444.4,439.5" fill="#ff0000"/>
</g></g>
<g id="macd"><g fill="#c0c0c0" shape-rendering="crispEdges"><rect x="1" y="626" width="1" height="19"/><rect x="9" y="626" width="1" height="19"/><rect x="17" y="626" width="1" height="19"/><rect x="25" y="626" width="1" height="19"/><rect x="33" y="626" width="1" height="18"/><rect x="41" y="626" width="1" height="14"/><rect x="49" y="626" width="1" height="13"/><rect x="57" y="626" width="1" height="11"/><rect x="65" y="626" width="1" height="10"/><rect x="73" y="626" width="1" height="9"/><rect x="81" y="626" width="1" height="9"/><rect x="89" y="626" width="1" height="12"/><rect x="97" y="626" width="1" height="12"/><rect x="105" y="626" width="1" height="14"/><rect x="113" y="626" width="1" height="11"/><rect x="121" y="626" width="1" height="6"/><rect x="129" y="626" width="1" height="2"/><rect x="137" y="626" width="1" height="1"/><rect x="145" y="621" width="1" height="6"/><rect x="153" y="619" width="1" height="8"/><rect x="161" y="612" width="1" height="15"/><rect x="169" y="607" width="1" height="20"/><rect x="177" y="601" width="1" height="26"/><rect x="185" y="597" width="1" height="30"/><rect x="193" y="597" width="1" height="30"/><rect x="201" y="595" width="1" height="32"/><rect x="209" y="596" width="1" height="31"/><rect x="217" y="597" width="1" height="30"/><rect x="225" y="599" width="1" height="28"/><rect x="233" y="601" width="1" height="26"/><rect x="241" y="602" width="1" height="25"/><rect x="249" y="604" width="1" height="23"/><rect x="257" y="600" width="1" height="27"/><rect x="265" y="595" width="1" height="32"/><rect x="273" y="593" width="1" height="34"/><rect x="281" y="591" width="1" height="36"/><rect x="289" y="592" width="1" height="35"/><rect x="297" y="593" width="1" height="34"/><rect x="305" y="597" width="1" height="30"/><rect x="313" y="602" width="1" height="25"/><rect x="321" y="606" width="1" height="21"/><rect x="329" y="608" width="1" height="19"/><rect x="337" y="617" width="1" height="10"/><rect x="345" y="622" width="1" height="5"/><rect x="353" y="626" width="1" height="1"/><rect x="361" y="626" width="1" height="7"/><rect x="369" y="626" width="1" height="8"/><rect x="377" y="626" width="1" height="3"/><rect x="385" y="626" width="1" height="1"/><rect x="393" y="623" width="1" height="4"/><rect x="401" y="621" width="1" height="6"/><rect x="409" y="621" width="1" height="6"/><rect x="417" y="621" width="1" height="6"/><rect x="425" y="616" width="1" height="11"/><rect x="433" y="612" width="1" height="15"/><rect x="441" y="611" width="1" height="16"/><rect x="449" y="607" width="1" height="20"/><rect x="457" y="605" width="1" height="22"/><rect x="465" y="604" width="1" height="23"/><rect x="473" y="606" width="1" height="21"/><rect x="481" y="610" width="1" height="17"/><rect x="489" y="613" width="1" height="14"/><rect x="497" y="614" width="1" height="13"/><rect x="505" y="614" width="1" height="13"/><rect x="513" y="614" width="1" height="13"/><rect x="521" y="615" width="1" height="12"/><rect x="529" y="615" width="1" height="12"/><rect x="537" y="615" width="1" height="12"/><rect x="545" y="619" width="1" height="8"/><rect x="553" y="623" width="1" height="4"/><rect x="561" y="626" width="1" height="1"/><rect x="569" y="626" width="1" height="9"/><rect x="577" y="626" width="1" height="15"/><rect x="585" y="626" width="1" height="18"/><rect x="593" y="626" width="1" height="21"/><rect x="601" y="626" width="1" height="30"/><rect x="609" y="626" width="1" height="38"/><rect x="617" y="626" width="1" height="43"/><rect x="625" y="626" width="1" height="48"/><rect x="633" y="626" width="1" height="54"/><rect x="641" y="626" width="1" height="55"/><rect x="649" y="626" width="1" height="56"/><rect x="657" y="626" width="1" height="57"/><rect x="665" y="626" width="1" height="57"/><rect x="673" y="626" width="1" height="59"/><rect x="681" y="626" width="1" height="58"/><rect x="689" y="626" width="1" height="57"/><rect x="697" y="626" width="1" height="62"/><rect x="705" y="626" width="1" height="64"/><rect x="713" y="626" width="1" height="71"/><rect x="721" y="626" width="1" height="78"/><rect x="729" y="626" width="1" height="82"/><rect x="737" y="626" width="1" height="85"/><rect x="745" y="626" width="1" height="92"/><rect x="753" y="626" width="1" height="94"/><rect x="761" y="626" width="1" height="91"/><rect x="769" y="626" width="1" height="89"/><rect x="777" y="626" width="1" height="91"/><rect x="785" y="626" width="1" height="89"/><rect x="793" y="626" width="1" height="93"/><rect x="801" y="626" width="1" height="97"/><rect x="809" y="626" width="1" height="104"/><rect x="817" y="626" width="1" height="115"/><rect x="825" y="626" width="1" height="117"/><rect x="833" y="626" width="1" height="106"/><rect x="841" y="626" width="1" height="86"/><rect x="849" y="626" width="1" height="67"/><rect x="857" y="626" width="1" height="56"/><rect x="865" y="626" width="1" height="43"/><rect x="873" y="626" width="1" height="33"/><rect x="881" y="626" width="1" height="25"/><rect x="889" y="626" width="1" height="18"/><rect x="897" y="626" width="1" height="7"/><rect x="905" y="623" width="1" height="4"/><rect x="913" y="615" width="1" height="12"/><rect x="921" y="609" width="1" height="18"/><rect x="929" y="606" width="1" height="21"/><rect x="937" y="607" width="1" height="20"/><rect x="945" y="610" width="1" height="17"/><rect x="953" y="610" width="1" height="17"/><rect x="961" y="610" width="1" height="17"/><rect x="969" y="609" width="1" height="18"/><rect x="977" y="608" width="1" height="19"/><rect x="985" y="605" width="1" height="22"/><rect x="993" y="602" width="1" height="25"/><rect x="1001" y="602" width="1" height="25"/><rect x="1009" y="603" width="1" height="24"/><rect x="1017" y="605" width="1" height="22"/><rect x="1025" y="604" width="1" height="23"/><rect x="1033" y="603" width="1" height="24"/><rect x="1041" y="600" width="1" height="27"/><rect x="1049" y="601" width="1" height="26"/><rect x="1057" y="603" width="1" height="24"/><rect x="1065" y="607" width="1" height="20"/><rect x="1073" y="610" width="1" height="17"/><rect x="1081" y="614" width="1" height="13"/><rect x="1089" y="615" width="1" height="12"/><rect x="1097" y="622" width="1" height="5"/><rect x="1105" y="626" width="1" height="1"/><rect x="1113" y="626" width="1" height="7"/><rect x="1121" y="626" width="1" height="10"/><rect x="1129" y="626" width="1" height="11"/><rect x="1137" y="626" width="1" height="13"/><rect x="1145" y="626" width="1" height="12"/><rect x="1153" y="626" width="1" height="10"/><rect x="1161" y="626" width="1" height="14"/><rect x="1169" y="626" width="1" height="17"/><rect x="1177" y="626" width="1" height="15"/><rect x="1185" y="626" width="1" height="20"/><rect x="1193" y="626" width="1" height="25"/><rect x="1201" y="626" width="1" height="28"/><rect x="1209" y="626" width="1" height="30"/><rect x="1217" y="626" width="1" height="32"/><rect x="1225" y="626" width="1" height="37"/><rect x="1233" y="626" width="1" height="44"/><rect x="1241" y="626" width="1" height="44"/><rect x="1249" y="626" width="1" height="46"/><rect x="1257" y="626" width="1" height="48"/><rect x="1265" y="626" width="1" height="51"/><rect x="1273" y="626" width="1" height="48"/><rect x="1281" y="626" width="1" height="47"/><rect x="1289" y="626" width="1" height="41"/><rect x="1297" y="626" width="1" height="31"/><rect x="1305" y="626" width="1" height="24"/><rect x="1313" y="626" width="1" height="18"/><rect x="1321" y="626" width="1" height="15"/><rect x="1329" y="626" width="1" height="13"/><rect x="1337" y="626" width="1" height="9"/><rect x="1345" y="626" width="1" height="9"/><rect x="1353" y="626" width="1" height="15"/><rect x="1361" y="626" width="1" height="20"/><rect x="1369" y="626" width="1" height="28"/><rect x="1377" y="626" width="1" height="33"/><rect x="1385" y="626" width="1" height="33"/><rect x="1393" y="626" width="1" height="34"/><rect x="1401" y="626" width="1" height="36"/><rect x="1409" y="626" width="1" height="40"/><rect x="1417" y="626" width="1" height="39"/><rect x="1425" y="626" width="1" height="37"/></g>
<polyline points="0,656.3 6.7,654.2 16.7,652.2 30,650.3 35,648.3 41.7,647.5 48.3,645 66.7,642.5 83.3,640.3 90,639.2 113.3,638.3 126.7,636.7 141.7,633.7 150,632.5 158.3,629.2 168.3,624.7 178.3,620 185.8,615 193.3,611.2 203.3,606.7 216.7,601.3 230,598.3 245,597.2 248.3,598.3 263.3,598 281.7,597.3 283,597.2 299.7,596.3 303,595.3 316.3,595.3 318.8,596.3 331.3,597.2 336.3,599.2 343,601.3 349.7,604.5 354.7,607 361.3,611.2 366.3,615 371.3,617.5 378,619.5 384.7,622.5 391.3,623.7 399.7,625 408,626.2 419.7,625.3 426.3,624.2 433,622.5 439.7,620.5 444.7,618.3 449.7,616.2 456.3,614.5 462.2,613.3 464.7,611.7 474.7,610.5 483,609.2 488,608.7 508,608.7 511.3,609.7 524.7,609.7 528,611.2 533,612 535.5,612.8 548,613.7 553,615.3 559.7,616.7 566,617.5 569.3,619.5 576.8,622 582.7,624.5 588.5,626.3 594.3,630.3 601,633.7 606.8,638 612.7,642.2 618.5,646.3 624.3,649.7 630.2,654.2 636.8,659.5 642.7,662.5 648.5,665.8 655.2,670.3 660.2,672.5 666,675.5 672.7,678.7 679.3,679.5 684.3,681.3 690.2,682.5 697.7,683.3 702.7,684.2 708.5,685.3 714.3,686.3 721,689.7 726.8,690.5 732.7,692.5 738.5,694.7 744.3,697.5 750.2,700.5 756,703.7 761.8,706.7 768.5,709.5 774.3,711.3 781,713.7 786.8,714.5 792.7,715.3 798.5,716.3 804.3,718.3 810.2,719.5 816.8,722.5 822.7,723.3 829.3,725.5 834.3,726.7 840.2,726.7 847.7,724.3 851.5,722.5 857.3,720 864,715 870.7,710 876.5,704.2 881.5,698.3 885.7,692.5 889.8,686.7 894,680.8 898.2,674.2 902.3,667.8 906.5,662.2 910.7,656.7 915.7,650 919.8,644.5 924.8,639.2 930.7,633 937.3,626.7 944,622 949,619.5 954.8,616.2 961.5,613.3 967.3,611.2 972.3,609.5 979,608.3 985.7,607.2 992.3,606.3 1004,606.3 1015.7,605.5 1022.3,604.5 1034,604.2 1040.7,603.3 1046.5,602.2 1069,602.2 1074,603.3 1082.3,604.5 1094,606.2 1099,608 1105.7,610.3 1111.5,613 1117.3,615.8 1124,619.2 1130.7,622.5 1134.9,624.7 1140.6,626.6 1147.2,629.8 1153.9,631.3 1160.5,634.2 1166.2,636.5 1171.9,637.4 1178.6,638.4 1184.3,639.9 1189,640.8 1194.7,641.8 1201.4,643.3 1208,645.2 1213.7,646.5 1219.5,648.1 1225.2,650.3 1231.8,652.8 1237.5,655.7 1243.2,658.3 1249.9,660.4 1255.6,662.7 1261.3,664.6 1267,666.9 1273.6,668.4 1280.3,669.9 1286,671.3 1297.4,671.6 1304.1,668.8 1309.8,666.9 1315.5,664.6 1322.1,662.1 1327.8,659.3 1333.5,656 1340.2,651.9 1345.9,648.8 1351.6,646 1357.3,644.3 1363.9,643.3 1369.6,643.3 1376.3,644.6 1386.7,645.6 1393.4,648.1 1400.1,649.4 1405.8,652.2 1412.4,655.1 1425.5,657.9" fill="none" stroke="#ff0000" stroke-width="1" stroke-dasharray="3 3" shape-rendering="crispEdges"/>
<line x1="1389.6" y1="657.6" x2="1436" y2="659.1" stroke="#ff0000" stroke-width="3" stroke-linecap="butt" shape-rendering="crispEdges"/><polygon shape-rendering="crispEdges" points="1441,659.3 1428.9,663.3 1430.4,659 1429.2,654.5" fill="#ff0000"/></g>
<g id="rsi"><line x1="0" x2="1652" y1="789.5" y2="789.5" stroke="#c0c0c0" stroke-width="1" stroke-dasharray="3 3" shape-rendering="crispEdges"/>
<line x1="0" x2="1652" y1="840.5" y2="840.5" stroke="#c0c0c0" stroke-width="1" stroke-dasharray="3 3" shape-rendering="crispEdges"/>
<line x1="0" x2="1652" y1="901.5" y2="901.5" stroke="#c0c0c0" stroke-width="1" stroke-dasharray="3 3" shape-rendering="crispEdges"/>
<polyline points="0,843.8 1.5,843.8 9.5,856.3 17.5,857.5 25.5,852.8 33.5,851.2 41.5,836.3 49.5,845.4 57.5,844.4 65.5,846.2 73.5,842.3 81.5,851.4 89.5,860.3 97.5,863.3 105.5,852.8 113.5,835.7 121.5,830.2 129.5,822.2 137.5,823.2 145.5,818.5 153.5,824.2 161.5,809.5 169.5,806.4 177.5,804.4 185.5,803.4 193.5,818.1 201.5,812.5 209.5,820.6 217.5,823.2 225.5,823.2 233.5,831.3 241.5,828.2 249.5,830.2 257.5,808.9 265.5,803.8 273.5,814.1 281.5,811.5 289.5,820.2 297.5,822.2 305.5,837.3 313.5,840.3 321.5,839.1 329.5,838.7 337.5,858.9 345.5,853.4 353.5,858.9 361.5,863.3 369.5,846.4 377.5,830.2 385.5,827.2 393.5,830.2 401.5,830.2 409.5,839.7 417.5,834.7 425.5,822.2 433.5,822.2 441.5,826.2 449.5,819.2 457.5,822.2 465.5,824 473.5,835.3 481.5,840.1 489.5,842.7 497.5,838.3 505.5,832.7 513.5,830.2 521.5,837.3 529.5,832.7 537.5,832.3 545.5,847.2 553.5,852.2 561.5,852.2 569.5,872.4 577.5,866.3 585.5,861.3 593.5,862.5 601.5,879 609.5,880.5 617.5,880.5 625.5,883.5 633.5,887.5 641.5,874.4 649.5,874.4 657.5,876.4 665.5,878.6 673.5,880.5 681.5,878.4 689.5,878.4 697.5,889.5 705.5,886.1 713.5,896.2 721.5,898.6 729.5,897.2 737.5,898.6 745.5,904.3 753.5,890.1 761.5,876.4 769.5,878.4 777.5,886.1 785.5,875.4 793.5,885.1 801.5,887.5 809.5,893.2 817.5,898.2 825.5,882.7 833.5,852.2 841.5,836.3 849.5,833.3 857.5,840.3 865.5,834.3 873.5,835.3 881.5,837.7 889.5,834.3 897.5,827.2 905.5,822.2 913.5,825.6 921.5,824.2 929.5,829.2 937.5,835.3 945.5,841.3 953.5,835.7 961.5,834.3 969.5,833.3 977.5,830 985.5,826.6 993.5,826.2 1001.5,830 1009.5,831.3 1017.5,835.3 1025.5,830.2 1033.5,824 1041.5,820.2 1049.5,830.2 1057.5,833.7 1065.5,842.3 1073.5,841.1 1081.5,844.8 1089.5,837.7 1097.5,853.4 1105.5,858.3 1113.5,859.5 1121.5,851.4 1129.5,850.2 1137.5,851.4 1145.5,846.8 1153.5,843.4 1161.5,856.3 1169.5,859.5 1177.5,851.4 1185.5,858.3 1193.5,866.3 1201.5,864.3 1209.5,866.3 1217.5,864.3 1225.5,875.6 1233.5,880.1 1241.5,863.5 1249.5,868 1257.5,871.4 1265.5,871.4 1273.5,862.3 1281.5,857.5 1289.5,844.8 1297.5,832.3 1305.5,831.3 1313.5,834.3 1321.5,840.7 1329.5,841.1 1337.5,835.1 1345.5,844.4 1353.5,862.3 1361.5,863.5 1369.5,873.4 1377.5,868.6 1385.5,855.3 1393.5,856.9 1401.5,863.5 1409.5,868.6 1417.5,854.2 1425.5,851.8" fill="none" stroke="#1e90ff" stroke-width="1" stroke-linejoin="round" shape-rendering="crispEdges"/>
<line x1="1365.3" y1="867.6" x2="1436.1" y2="853.5" stroke="#ff0000" stroke-width="3" stroke-linecap="butt" shape-rendering="crispEdges"/><polygon shape-rendering="crispEdges" points="1441,852.5 1429.6,859.3 1430.2,854.7 1427.9,850.6" fill="#ff0000"/></g>
<g id="labels" fill="#000"><path d="M0 34v3h3z" fill="#000"/><text x="8.2" y="38" text-anchor="start" style="font-size:10.17px" textLength="187.8" lengthAdjust="spacingAndGlyphs">HK50-,H4&#160; 19684.0 19832.0 19599.0 19745.0</text><text x="-1.6" y="594" text-anchor="start" style="font-size:10.17px" textLength="132.2" lengthAdjust="spacingAndGlyphs">MACD(12,26,9) -323.23 -293.81</text><text x="-1.8" y="766" text-anchor="start" style="font-size:10.17px" textLength="66.8" lengthAdjust="spacingAndGlyphs">RSI(14) 43.5175</text><rect x="1653" y="48" width="2" height="1" fill="#000" shape-rendering="crispEdges"/><text x="1658.2" y="52" text-anchor="start" style="font-size:10.17px" textLength="32.8" lengthAdjust="spacingAndGlyphs">25122.0</text><rect x="1653" y="81" width="2" height="1" fill="#000" shape-rendering="crispEdges"/><text x="1658.2" y="85" text-anchor="start" style="font-size:10.17px" textLength="32.8" lengthAdjust="spacingAndGlyphs">24680.0</text><rect x="1653" y="114" width="2" height="1" fill="#000" shape-rendering="crispEdges"/><text x="1658.2" y="118" text-anchor="start" style="font-size:10.17px" textLength="32.8" lengthAdjust="spacingAndGlyphs">24238.0</text><rect x="1653" y="147" width="2" height="1" fill="#000" shape-rendering="crispEdges"/><text x="1658.2" y="151" text-anchor="start" style="font-size:10.17px" textLength="32.8" lengthAdjust="spacingAndGlyphs">23796.0</text><rect x="1653" y="180" width="2" height="1" fill="#000" shape-rendering="crispEdges"/><text x="1658.2" y="184" text-anchor="start" style="font-size:10.17px" textLength="32.8" lengthAdjust="spacingAndGlyphs">23367.0</text><rect x="1653" y="213" width="2" height="1" fill="#000" shape-rendering="crispEdges"/><text x="1658.2" y="217" text-anchor="start" style="font-size:10.17px" textLength="32.8" lengthAdjust="spacingAndGlyphs">22925.0</text><rect x="1653" y="246" width="2" height="1" fill="#000" shape-rendering="crispEdges"/><text x="1658.2" y="250" text-anchor="start" style="font-size:10.17px" textLength="32.8" lengthAdjust="spacingAndGlyphs">22483.0</text><rect x="1653" y="279" width="2" height="1" fill="#000" shape-rendering="crispEdges"/><text x="1658.2" y="283" text-anchor="start" style="font-size:10.17px" textLength="32.8" lengthAdjust="spacingAndGlyphs">22041.0</text><rect x="1653" y="312" width="2" height="1" fill="#000" shape-rendering="crispEdges"/><text x="1658.2" y="316" text-anchor="start" style="font-size:10.17px" textLength="32.8" lengthAdjust="spacingAndGlyphs">21612.0</text><rect x="1653" y="345" width="2" height="1" fill="#000" shape-rendering="crispEdges"/><text x="1658.2" y="349" text-anchor="start" style="font-size:10.17px" textLength="32.8" lengthAdjust="spacingAndGlyphs">21170.0</text><rect x="1653" y="378" width="2" height="1" fill="#000" shape-rendering="crispEdges"/><text x="1658.2" y="382" text-anchor="start" style="font-size:10.17px" textLength="32.8" lengthAdjust="spacingAndGlyphs">20728.0</text><rect x="1653" y="411" width="2" height="1" fill="#000" shape-rendering="crispEdges"/><text x="1658.2" y="415" text-anchor="start" style="font-size:10.17px" textLength="32.8" lengthAdjust="spacingAndGlyphs">20286.0</text><rect x="1653" y="444" width="2" height="1" fill="#000" shape-rendering="crispEdges"/><text x="1658.2" y="448" text-anchor="start" style="font-size:10.17px" textLength="32.8" lengthAdjust="spacingAndGlyphs">19857.0</text><rect x="1653" y="477" width="2" height="1" fill="#000" shape-rendering="crispEdges"/><text x="1658.2" y="481" text-anchor="start" style="font-size:10.17px" textLength="32.8" lengthAdjust="spacingAndGlyphs">19415.0</text><rect x="1653" y="510" width="2" height="1" fill="#000" shape-rendering="crispEdges"/><text x="1658.2" y="514" text-anchor="start" style="font-size:10.17px" textLength="32.8" lengthAdjust="spacingAndGlyphs">18973.0</text><rect x="1653" y="543" width="2" height="1" fill="#000" shape-rendering="crispEdges"/><text x="1658.2" y="547" text-anchor="start" style="font-size:10.17px" textLength="32.8" lengthAdjust="spacingAndGlyphs">18531.0</text><rect x="1653" y="576" width="2" height="1" fill="#000" shape-rendering="crispEdges"/><text x="1658.2" y="580" text-anchor="start" style="font-size:10.17px" textLength="32.8" lengthAdjust="spacingAndGlyphs">18102.0</text><rect x="1653" y="583" width="2" height="1" fill="#000" shape-rendering="crispEdges"/><rect x="1653" y="626" width="2" height="1" fill="#000" shape-rendering="crispEdges"/><rect x="1653" y="750" width="2" height="1" fill="#000" shape-rendering="crispEdges"/><rect x="1653" y="755" width="2" height="1" fill="#000" shape-rendering="crispEdges"/><text x="1656.2" y="592" text-anchor="start" style="font-size:10.17px" textLength="27.8" lengthAdjust="spacingAndGlyphs">389.44</text><text x="1656.2" y="630" text-anchor="start" style="font-size:10.17px" textLength="17.6" lengthAdjust="spacingAndGlyphs">0.00</text><text x="1656" y="748" text-anchor="start" style="font-size:10.17px" textLength="36" lengthAdjust="spacingAndGlyphs">-1099.78</text><text x="1656.6" y="764" text-anchor="start" style="font-size:10.17px" textLength="14.4" lengthAdjust="spacingAndGlyphs">100</text><rect x="1653" y="789" width="2" height="1" fill="#000" shape-rendering="crispEdges"/><text x="1656.6" y="793" text-anchor="start" style="font-size:10.17px" textLength="9.6" lengthAdjust="spacingAndGlyphs">80</text><rect x="1653" y="840" width="2" height="1" fill="#000" shape-rendering="crispEdges"/><text x="1656.6" y="844" text-anchor="start" style="font-size:10.17px" textLength="9.6" lengthAdjust="spacingAndGlyphs">50</text><rect x="1653" y="901" width="2" height="1" fill="#000" shape-rendering="crispEdges"/><text x="1656.6" y="905" text-anchor="start" style="font-size:10.17px" textLength="9.6" lengthAdjust="spacingAndGlyphs">15</text><text x="1656.6" y="924" text-anchor="start" style="font-size:10.17px" textLength="4.8" lengthAdjust="spacingAndGlyphs">0</text><rect x="1654" y="389" width="41" height="11" fill="#ff0000" shape-rendering="crispEdges"/><text x="1658.2" y="398" text-anchor="start" style="font-size:10.17px" textLength="32.8" lengthAdjust="spacingAndGlyphs" fill="#fff">20505.7</text><rect x="1654" y="417" width="41" height="11" fill="#ff0000" shape-rendering="crispEdges"/><text x="1658.2" y="426" text-anchor="start" style="font-size:10.17px" textLength="32.8" lengthAdjust="spacingAndGlyphs" fill="#fff">20134.0</text><rect x="1654" y="446" width="41" height="11" fill="#000000" shape-rendering="crispEdges"/><text x="1658.2" y="455" text-anchor="start" style="font-size:10.17px" textLength="32.8" lengthAdjust="spacingAndGlyphs" fill="#fff">19745.0</text><rect x="1654" y="456" width="41" height="11" fill="#32cd32" shape-rendering="crispEdges"/><text x="1658.2" y="465" text-anchor="start" style="font-size:10.17px" textLength="32.8" lengthAdjust="spacingAndGlyphs" fill="#fff">19616.2</text><rect x="1654" y="492" width="41" height="11" fill="#0000ff" shape-rendering="crispEdges"/><text x="1658.2" y="501" text-anchor="start" style="font-size:10.17px" textLength="32.8" lengthAdjust="spacingAndGlyphs" fill="#fff">19138.3</text><rect x="1654" y="526" width="41" height="11" fill="#0000ff" shape-rendering="crispEdges"/><text x="1658.2" y="535" text-anchor="start" style="font-size:10.17px" textLength="32.8" lengthAdjust="spacingAndGlyphs" fill="#fff">18686.9</text><rect x="-7" y="928" width="1" height="3" fill="#000" shape-rendering="crispEdges"/><text x="-7.8" y="940" text-anchor="start" style="font-size:10.17px" textLength="51.5" lengthAdjust="spacingAndGlyphs">28 Dec 2021</text><rect x="57" y="928" width="1" height="3" fill="#000" shape-rendering="crispEdges"/><text x="56.2" y="940" text-anchor="start" style="font-size:10.17px" textLength="46.8" lengthAdjust="spacingAndGlyphs">3 Jan 05:00</text><rect x="121" y="928" width="1" height="3" fill="#000" shape-rendering="crispEdges"/><text x="120.2" y="940" text-anchor="start" style="font-size:10.17px" textLength="46.8" lengthAdjust="spacingAndGlyphs">7 Jan 05:00</text><rect x="185" y="928" width="1" height="3" fill="#000" shape-rendering="crispEdges"/><text x="184.2" y="940" text-anchor="start" style="font-size:10.17px" textLength="51.2" lengthAdjust="spacingAndGlyphs">13 Jan 05:00</text><rect x="249" y="928" width="1" height="3" fill="#000" shape-rendering="crispEdges"/><text x="248.2" y="940" text-anchor="start" style="font-size:10.17px" textLength="51.2" lengthAdjust="spacingAndGlyphs">19 Jan 05:00</text><rect x="313" y="928" width="1" height="3" fill="#000" shape-rendering="crispEdges"/><text x="312.2" y="940" text-anchor="start" style="font-size:10.17px" textLength="51.2" lengthAdjust="spacingAndGlyphs">25 Jan 05:00</text><rect x="377" y="928" width="1" height="3" fill="#000" shape-rendering="crispEdges"/><text x="376.2" y="940" text-anchor="start" style="font-size:10.17px" textLength="49.4" lengthAdjust="spacingAndGlyphs">4 Feb 01:15</text><rect x="441" y="928" width="1" height="3" fill="#000" shape-rendering="crispEdges"/><text x="440.2" y="940" text-anchor="start" style="font-size:10.17px" textLength="54.4" lengthAdjust="spacingAndGlyphs">10 Feb 01:15</text><rect x="505" y="928" width="1" height="3" fill="#000" shape-rendering="crispEdges"/><text x="504.2" y="940" text-anchor="start" style="font-size:10.17px" textLength="54.4" lengthAdjust="spacingAndGlyphs">16 Feb 01:15</text><rect x="569" y="928" width="1" height="3" fill="#000" shape-rendering="crispEdges"/><text x="568.2" y="940" text-anchor="start" style="font-size:10.17px" textLength="54.4" lengthAdjust="spacingAndGlyphs">22 Feb 01:15</text><rect x="633" y="928" width="1" height="3" fill="#000" shape-rendering="crispEdges"/><text x="632.2" y="940" text-anchor="start" style="font-size:10.17px" textLength="54.4" lengthAdjust="spacingAndGlyphs">28 Feb 01:15</text><rect x="697" y="928" width="1" height="3" fill="#000" shape-rendering="crispEdges"/><text x="696.2" y="940" text-anchor="start" style="font-size:10.17px" textLength="50" lengthAdjust="spacingAndGlyphs">4 Mar 01:15</text><rect x="761" y="928" width="1" height="3" fill="#000" shape-rendering="crispEdges"/><text x="760.2" y="940" text-anchor="start" style="font-size:10.17px" textLength="54.5" lengthAdjust="spacingAndGlyphs">10 Mar 01:15</text><rect x="825" y="928" width="1" height="3" fill="#000" shape-rendering="crispEdges"/><text x="824.2" y="940" text-anchor="start" style="font-size:10.17px" textLength="54.5" lengthAdjust="spacingAndGlyphs">16 Mar 01:15</text><rect x="889" y="928" width="1" height="3" fill="#000" shape-rendering="crispEdges"/><text x="888.2" y="940" text-anchor="start" style="font-size:10.17px" textLength="54.5" lengthAdjust="spacingAndGlyphs">22 Mar 01:15</text><rect x="953" y="928" width="1" height="3" fill="#000" shape-rendering="crispEdges"/><text x="952.2" y="940" text-anchor="start" style="font-size:10.17px" textLength="54.5" lengthAdjust="spacingAndGlyphs">28 Mar 01:15</text><rect x="1017" y="928" width="1" height="3" fill="#000" shape-rendering="crispEdges"/><text x="1016.2" y="940" text-anchor="start" style="font-size:10.17px" textLength="48.9" lengthAdjust="spacingAndGlyphs">1 Apr 01:15</text><rect x="1081" y="928" width="1" height="3" fill="#000" shape-rendering="crispEdges"/><text x="1080.2" y="940" text-anchor="start" style="font-size:10.17px" textLength="48.9" lengthAdjust="spacingAndGlyphs">8 Apr 01:15</text><rect x="1145" y="928" width="1" height="3" fill="#000" shape-rendering="crispEdges"/><text x="1144.2" y="940" text-anchor="start" style="font-size:10.17px" textLength="53.4" lengthAdjust="spacingAndGlyphs">14 Apr 01:15</text><rect x="1209" y="928" width="1" height="3" fill="#000" shape-rendering="crispEdges"/><text x="1208.2" y="940" text-anchor="start" style="font-size:10.17px" textLength="53.4" lengthAdjust="spacingAndGlyphs">22 Apr 01:15</text><rect x="1273" y="928" width="1" height="3" fill="#000" shape-rendering="crispEdges"/><text x="1272.2" y="940" text-anchor="start" style="font-size:10.17px" textLength="53.4" lengthAdjust="spacingAndGlyphs">28 Apr 01:15</text><rect x="1337" y="928" width="1" height="3" fill="#000" shape-rendering="crispEdges"/><text x="1336.2" y="940" text-anchor="start" style="font-size:10.17px" textLength="52.8" lengthAdjust="spacingAndGlyphs">5 May 01:15</text><rect x="1401" y="928" width="1" height="3" fill="#000" shape-rendering="crispEdges"/><text x="1400.2" y="940" text-anchor="start" style="font-size:10.17px" textLength="57.9" lengthAdjust="spacingAndGlyphs">12 May 01:15</text></g>
<g id="panel"><g shape-rendering="crispEdges"><rect x="0" y="46" width="215" height="57" fill="#fff"/><rect x="0" y="46" width="48" height="24" fill="url(#gSell)"/><rect x="163" y="46" width="52" height="24" fill="url(#gSell)"/><rect x="0" y="70" width="105" height="33" fill="url(#gBig)"/><rect x="107" y="70" width="108" height="33" fill="url(#gBig)"/><rect x="0" y="46" width="48" height="1" fill="#c81414"/><rect x="47" y="46" width="1" height="24" fill="#c41010"/><rect x="163" y="46" width="52" height="1" fill="#c81414"/><rect x="163" y="46" width="1" height="24" fill="#c41010"/><rect x="214" y="46" width="1" height="57" fill="#b80808"/><rect x="104" y="70" width="1" height="33" fill="#b00808"/><rect x="107" y="70" width="1" height="33" fill="#c41414"/><rect x="0" y="102" width="105" height="1" fill="#a00000"/><rect x="107" y="102" width="108" height="1" fill="#a00000"/><rect x="0" y="69" width="44" height="1" fill="#a80c0c"/><rect x="0" y="70" width="44" height="1" fill="#f07070"/><rect x="167" y="69" width="44" height="1" fill="#a80c0c"/><rect x="167" y="70" width="44" height="1" fill="#f07070"/><rect x="50" y="46" width="111" height="22" fill="#a4a8b0"/><rect x="51" y="47" width="109" height="20" fill="#fff"/><rect x="52" y="48" width="19" height="18" fill="url(#gBtn)"/><rect x="71" y="47" width="1" height="20" fill="#a4a8b0"/><rect x="140" y="48" width="19" height="18" fill="url(#gBtn)"/><rect x="139" y="47" width="1" height="20" fill="#a4a8b0"/></g><path d="M58 55h5.2l-2.6 3.1z" fill="#4858c0"/><path d="M146.8 58.2h5.2l-2.6-3.1z" fill="#4858c0"/><text x="20.9" y="62" text-anchor="middle" style="font-size:13.08px" textLength="25.3" lengthAdjust="spacingAndGlyphs" fill="#fff">SELL</text><text x="188.2" y="62" text-anchor="middle" style="font-size:13.08px" textLength="23.1" lengthAdjust="spacingAndGlyphs" fill="#fff">BUY</text><text x="135.8" y="61" text-anchor="end" style="font-size:13.08px" textLength="23.2" lengthAdjust="spacingAndGlyphs">1.00</text><text x="12.2" y="98" text-anchor="start" style="font-size:13.08px;font-weight:bold" textLength="34.2" lengthAdjust="spacingAndGlyphs" fill="#fff">19743</text><rect x="51.6" y="94" width="4" height="4" rx="0.6" fill="#fff"/><text x="57.4" y="98" textLength="17.6" lengthAdjust="spacingAndGlyphs" style="font-size:34.9px" fill="#fff" stroke="url(#gBigU)" stroke-width="0.35">5</text><text x="122.2" y="98" text-anchor="start" style="font-size:13.08px;font-weight:bold" textLength="34.4" lengthAdjust="spacingAndGlyphs" fill="#fff">19756</text><rect x="162.4" y="94" width="4" height="4" rx="0.6" fill="#fff"/><text x="168.4" y="98" textLength="17.6" lengthAdjust="spacingAndGlyphs" style="font-size:34.9px" fill="#fff" stroke="url(#gBigU)" stroke-width="0.35">5</text></g>
</svg>
</body></html>
